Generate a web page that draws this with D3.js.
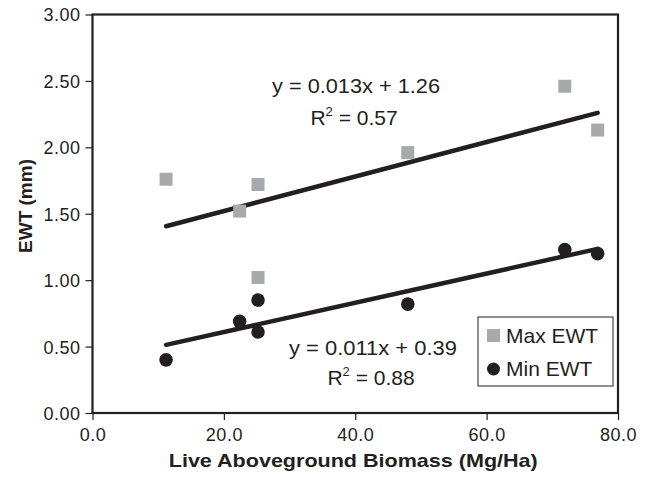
<!DOCTYPE html>
<html>
<head>
<meta charset="utf-8">
<script src="https://cdn.jsdelivr.net/npm/d3@7"></script>
<style>
  body { margin: 0; background: #fff; }
  svg text { font-family: "Liberation Sans", Arial, sans-serif; fill: #231f20; }
</style>
</head>
<body>
<svg id="chart" width="652" height="477"></svg>
<script>
// biomass (Mg/Ha) for each plot
const biomass = [11.2, 22.4, 25.2, 25.2, 48.0, 71.9, 76.9];
// EWT (mm)
const maxEwt = [1.76, 1.52, 1.72, 1.02, 1.96, 2.46, 2.13];
const minEwt = [0.40, 0.69, 0.85, 0.61, 0.82, 1.23, 1.20];

const xTicks = [0, 20, 40, 60, 80];
const yTicks = [0, 0.5, 1, 1.5, 2, 2.5, 3];

// fitted lines, as printed on the chart
const fits = [
    {name: 'max', slope: 0.013, intercept: 1.26, eq: 'y = 0.013x + 1.26', r2: '0.57'},
    {name: 'min', slope: 0.011, intercept: 0.39, eq: 'y = 0.011x + 0.39', r2: '0.88'}
];

const ink = '#231f20';
const grey = '#a7a9ac';

let svg = d3.select('#chart');
let margin = {top: 14.5, right: 34, bottom: 64, left: 92.5},
    width = 652 - margin.left - margin.right,
    height = 477 - margin.top - margin.bottom;

let g = svg.append('g').attr('transform', `translate(${margin.left},${margin.top})`);

let x = d3.scaleLinear().domain([0, 80]).range([0, width]);
let y = d3.scaleLinear().domain([0, 3]).range([height, 0]);

// axes
let xAxis = g.append('g')
    .attr('transform', `translate(0,${height})`)
    .call(d3.axisBottom(x).tickValues(xTicks).tickFormat(d3.format('.1f')).tickSize(7).tickPadding(5));
let yAxis = g.append('g')
    .call(d3.axisLeft(y).tickValues(yTicks).tickFormat(d3.format('.2f')).tickSize(7).tickPadding(5));

[xAxis, yAxis].forEach(function (a) {
    a.select('.domain').remove();
    a.selectAll('line').attr('stroke', ink).attr('stroke-width', 1.2);
    a.selectAll('text').style('font-size', '18px').style('letter-spacing', '0.5px').attr('fill', ink);
});
xAxis.selectAll('text').attr('dy', '0.9em');
yAxis.selectAll('text').attr('dy', '0.36em');

// frame
g.append('rect')
    .attr('width', width)
    .attr('height', height)
    .attr('fill', 'none')
    .attr('stroke', ink)
    .attr('stroke-width', 2.2);

// trend lines
let xExt = d3.extent(biomass);
let line = d3.line().x(d => x(d[0])).y(d => y(d[1]));
g.selectAll('.trend')
    .data(fits)
    .enter()
    .append('path')
    .attr('class', 'trend')
    .attr('d', f => line(xExt.map(v => [v, f.slope * v + f.intercept])))
    .attr('stroke', ink)
    .attr('stroke-width', 4.5)
    .attr('stroke-linecap', 'round')
    .attr('fill', 'none');

// max EWT squares
let sq = 13;
g.selectAll('.maxpt')
    .data(biomass.map((b, i) => [b, maxEwt[i]]))
    .enter()
    .append('rect')
    .attr('x', d => x(d[0]) - sq / 2)
    .attr('y', d => y(d[1]) - sq / 2)
    .attr('width', sq)
    .attr('height', sq)
    .attr('fill', grey);

// min EWT circles
g.selectAll('.minpt')
    .data(biomass.map((b, i) => [b, minEwt[i]]))
    .enter()
    .append('circle')
    .attr('cx', d => x(d[0]))
    .attr('cy', d => y(d[1]))
    .attr('r', 6.8)
    .attr('fill', ink);

// equation labels
let eqPos = [{cx: 356, y1: 93, y2: 125}, {cx: 373, y1: 355, y2: 385}];
fits.forEach(function (f, i) {
    let p = eqPos[i];
    svg.append('text')
        .attr('x', p.cx).attr('y', p.y1)
        .attr('text-anchor', 'middle')
        .style('font-size', '21px')
        .attr('textLength', 168)
        .attr('lengthAdjust', 'spacingAndGlyphs')
        .text(f.eq);
    let t = svg.append('text')
        .attr('x', p.cx - 2).attr('y', p.y2)
        .attr('text-anchor', 'middle')
        .style('font-size', '21px');
    t.append('tspan').text('R');
    t.append('tspan').attr('dy', -9).style('font-size', '13px').text('2');
    t.append('tspan').attr('dy', 9).text(' = ' + f.r2);
});

// legend
let leg = svg.append('g').attr('transform', 'translate(478,317)');
leg.append('rect')
    .attr('width', 135).attr('height', 69)
    .attr('fill', '#fff')
    .attr('stroke', ink)
    .attr('stroke-width', 1);
leg.append('rect')
    .attr('x', 9).attr('y', 12).attr('width', 13).attr('height', 13)
    .attr('fill', grey);
leg.append('text').attr('x', 28).attr('y', 26).style('font-size', '21px').text('Max EWT');
leg.append('circle').attr('cx', 15.5).attr('cy', 52).attr('r', 6.5).attr('fill', ink);
leg.append('text').attr('x', 28).attr('y', 59).style('font-size', '21px').text('Min EWT');

// axis titles
svg.append('text')
    .attr('x', margin.left + width / 2 - 2)
    .attr('y', 467)
    .attr('text-anchor', 'middle')
    .style('font-size', '19px')
    .style('font-weight', 'bold')
    .attr('textLength', 369)
    .attr('lengthAdjust', 'spacingAndGlyphs')
    .text('Live Aboveground Biomass (Mg/Ha)');

svg.append('text')
    .attr('transform', 'translate(32,206) rotate(-90)')
    .attr('text-anchor', 'middle')
    .style('font-size', '19px')
    .style('font-weight', 'bold')
    .text('EWT (mm)');
</script>
</body>
</html>
